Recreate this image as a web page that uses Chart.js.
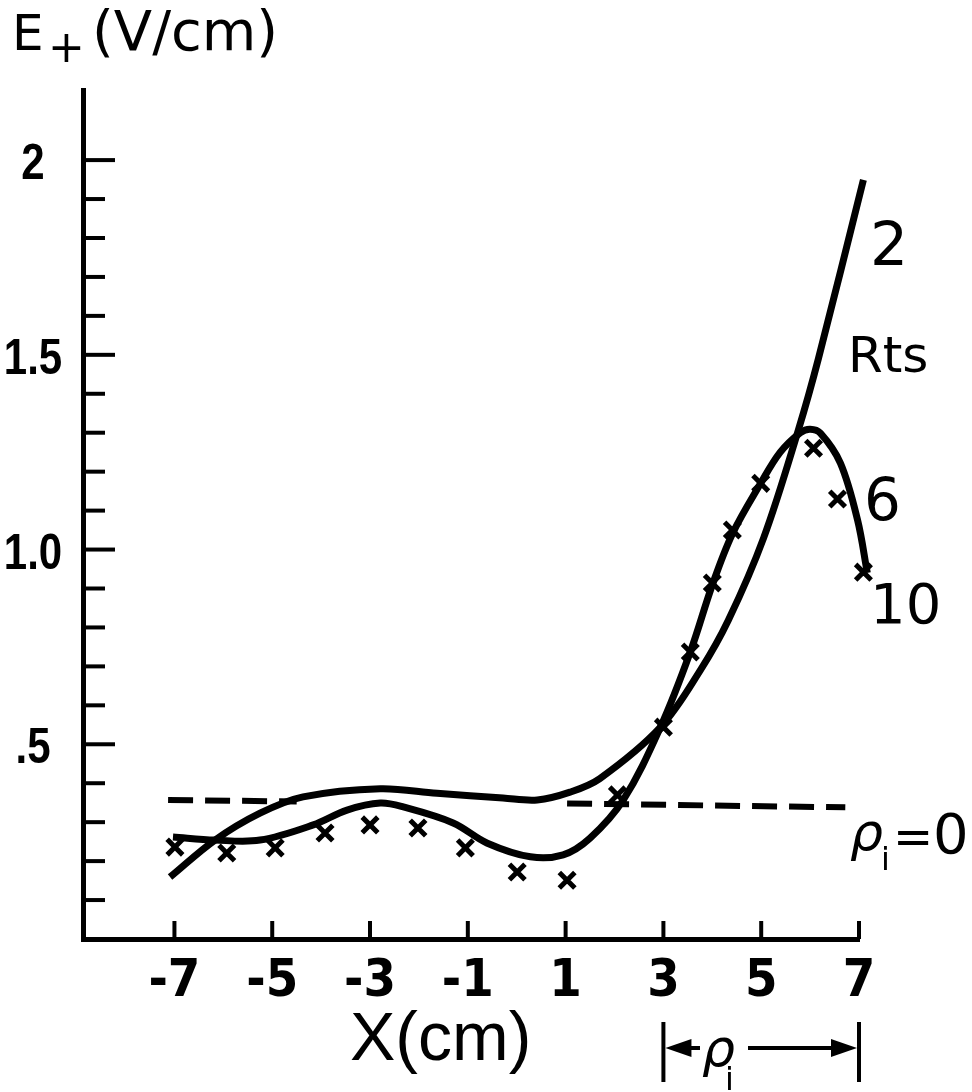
<!DOCTYPE html>
<html lang="en">
<head>
  <meta charset="UTF-8" />
  <title>E+ versus X</title>
  <script src="https://cdn.jsdelivr.net/npm/chart.js"></script>
  <style>
    html, body { margin: 0; padding: 0; background: #fff; }
    canvas { display: block; }
  </style>
</head>
<body>
  <canvas id="efield" width="972" height="1092"></canvas>

  <script>
    // axis ticks
    const xTicks = [-7, -5, -3, -1, 1, 3, 5, 7];
    const xTickLabels = ['-7', '-5', '-3', '-1', '1', '3', '5', '7'];
    const yTicks = [0.5, 1.0, 1.5, 2.0];
    const yTickLabels = ['.5', '1.0', '1.5', '2'];
    const yMinorTicks = [0.1, 0.2, 0.3, 0.4, 0.5, 0.6, 0.7, 0.8, 0.9, 1.0,
                         1.1, 1.2, 1.3, 1.4, 1.5, 1.6, 1.7, 1.8, 1.9, 2.0];

    // rho_i = 0 reference (dashed), hidden under the Rts=2 curve in the middle
    const rho0X = [-7.13, -4.5, -1.5, 1.03, 6.72];
    const rho0E = [0.357, 0.353, null, 0.348, 0.338];

    // Rts = 2
    const rts2X = [-7.09, -6.17, -5.25, -4.37, -2.79, -1.63, -0.28, 0.42, 1.09, 1.70,
                   2.94, 3.76, 4.33, 5.05, 5.76, 6.17, 7.09];
    const rts2E = [0.159, 0.254, 0.323, 0.365, 0.386, 0.374, 0.362, 0.357, 0.377, 0.412,
                   0.544, 0.691, 0.819, 1.030, 1.307, 1.490, 1.949];

    // Rts = 6
    const rts6X = [-7.03, -6.17, -5.25, -4.16, -3.47, -2.79, -2.32, -1.30, -0.60, 0.28, 0.95, 1.50,
                   2.18, 2.94, 3.55, 4.00, 4.41, 4.99, 5.39, 5.80, 6.00, 6.21, 6.62, 6.97, 7.17];
    const rts6E = [0.262, 0.254, 0.254, 0.293, 0.331, 0.349, 0.339, 0.298, 0.246, 0.211, 0.216, 0.259,
                   0.357, 0.544, 0.737, 0.909, 1.040, 1.170, 1.250, 1.300, 1.309, 1.299, 1.222, 1.076, 0.940];

    // Rts = 10 (x marks)
    const rts10X = [-6.99, -5.93, -4.94, -3.92, -3.00, -2.02, -1.05, 0.01, 1.03, 2.06,
                    3.00, 3.55, 4.00, 4.41, 4.99, 6.07, 6.56, 7.09];
    const rts10E = [0.236, 0.221, 0.234, 0.272, 0.293, 0.285, 0.234, 0.172, 0.151, 0.370,
                    0.544, 0.737, 0.914, 1.050, 1.170, 1.260, 1.130, 0.942];

    const rhoSpan = [3, 7];

    const pts = (xs, ys) => xs.map((x, i) => ({ x: x, y: ys[i] }));

    const DEJAVU = "'DejaVu Sans', 'Liberation Sans', sans-serif";
    const CONDENSED = "'DejaVu Sans Condensed', 'Liberation Sans', sans-serif";

    function text(ctx, s, x, y, font, align) {
      ctx.font = font;
      ctx.textAlign = align || 'left';
      ctx.textBaseline = 'alphabetic';
      ctx.fillText(s, x, y);
    }

    function line(ctx, x1, y1, x2, y2, w) {
      ctx.lineWidth = w;
      ctx.beginPath();
      ctx.moveTo(x1, y1);
      ctx.lineTo(x2, y2);
      ctx.stroke();
    }

    function arrowHead(ctx, tipX, y, dir) {
      ctx.beginPath();
      ctx.moveTo(tipX, y);
      ctx.lineTo(tipX + dir * 26, y - 9);
      ctx.lineTo(tipX + dir * 26, y + 9);
      ctx.closePath();
      ctx.fill();
    }

    // inward tick marks, y labels, titles and curve labels
    const decor = {
      id: 'decor',
      beforeDraw(chart) {
        const ctx = chart.ctx;
        ctx.save();
        ctx.fillStyle = '#fff';
        ctx.fillRect(0, 0, chart.width, chart.height);
        ctx.restore();
      },
      afterDraw(chart) {
        const ctx = chart.ctx;
        const xs = chart.scales.x, ys = chart.scales.y;
        const area = chart.chartArea;
        ctx.save();
        ctx.strokeStyle = '#000';
        ctx.fillStyle = '#000';
        ctx.lineCap = 'butt';

        yMinorTicks.forEach(v => {
          const y = ys.getPixelForValue(v);
          const len = yTicks.some(t => Math.abs(t - v) < 1e-6) ? 32 : 22;
          line(ctx, area.left, y, area.left + len, y, 4);
        });
        xTicks.forEach(v => {
          const x = xs.getPixelForValue(v);
          line(ctx, x, area.bottom, x, area.bottom - 18, 4);
        });

        // y tick labels, centred left of the axis
        yTicks.forEach((v, i) => {
          const y = ys.getPixelForValue(v);
          ctx.save();
          ctx.translate(33, y + 19);
          ctx.scale(0.84, 1);
          text(ctx, yTickLabels[i], 0, 0, 'bold 50px ' + "'Liberation Sans', sans-serif", 'center');
          ctx.restore();
        });

        // axis titles
        text(ctx, 'E', 12, 50, '50px ' + DEJAVU);
        text(ctx, '+', 48, 62, '44px ' + DEJAVU);
        text(ctx, '(V/cm)', 92, 50, '56px ' + DEJAVU);
        text(ctx, 'X(cm)', 350, 1060, '68px ' + "'Liberation Sans', sans-serif");

        // curve labels
        text(ctx, '2', 870, 265, '60px ' + DEJAVU);
        text(ctx, 'Rts', 848, 372, '50px ' + DEJAVU);
        text(ctx, '6', 864, 520, '58px ' + DEJAVU);
        text(ctx, '10', 870, 623, '56px ' + DEJAVU);
        text(ctx, 'ρ', 850, 850, 'italic 52px ' + DEJAVU);
        text(ctx, 'i', 881, 870, '32px ' + DEJAVU);
        text(ctx, '=', 893, 853, '48px ' + DEJAVU);
        text(ctx, '0', 933, 853, '56px ' + DEJAVU);

        // rho_i span marker below the axis
        const x3 = xs.getPixelForValue(rhoSpan[0]);
        const x7 = xs.getPixelForValue(rhoSpan[1]);
        const ya = 1048;
        line(ctx, x3, 1022, x3, 1082, 4);
        line(ctx, x7, 1022, x7, 1082, 4);
        line(ctx, x3 + 10, ya, 700, ya, 4);
        arrowHead(ctx, x3 + 2, ya, 1);
        line(ctx, 748, ya, x7 - 10, ya, 4);
        arrowHead(ctx, x7 - 2, ya, -1);
        text(ctx, 'ρ', 702, 1066, 'italic 52px ' + DEJAVU);
        text(ctx, 'i', 725, 1090, '32px ' + DEJAVU);

        ctx.restore();
      }
    };

    const curve = (label, data, extra) => Object.assign({
      label: label,
      data: data,
      borderColor: '#000',
      backgroundColor: '#000',
      borderWidth: 7,
      pointRadius: 0,
      fill: false,
      clip: false,
      tension: 0.35
    }, extra || {});

    new Chart(document.getElementById('efield'), {
      type: 'line',
      data: {
        datasets: [
          curve('ρi=0', pts(rho0X, rho0E), { borderWidth: 6, borderDash: [25, 12], tension: 0, spanGaps: false }),
          curve('2', pts(rts2X, rts2E)),
          curve('6', pts(rts6X, rts6E)),
          curve('10', pts(rts10X, rts10E), {
            showLine: false,
            pointStyle: 'crossRot',
            pointRadius: 11,
            pointBorderWidth: 5,
            pointBorderColor: '#000'
          })
        ]
      },
      options: {
        responsive: false,
        animation: false,
        layout: { padding: { top: 90, right: 113, left: 0, bottom: 0 } },
        plugins: {
          legend: { display: false },
          tooltip: { enabled: false }
        },
        scales: {
          x: {
            type: 'linear',
            min: -8.87,
            max: 7,
            grid: { display: false },
            border: { display: true, color: '#000', width: 5 },
            afterFit: s => { s.height = 153; },
            afterBuildTicks: s => { s.ticks = xTicks.map(v => ({ value: v })); },
            ticks: {
              color: '#000',
              autoSkip: false,
              maxRotation: 0,
              padding: 4,
              font: { family: CONDENSED, size: 52, weight: 'bold' },
              callback: (v, i) => xTickLabels[i]
            }
          },
          y: {
            type: 'linear',
            min: 0,
            max: 2.18,
            grid: { display: false },
            border: { display: true, color: '#000', width: 5 },
            afterFit: s => { s.width = 83; },
            afterBuildTicks: s => { s.ticks = yTicks.map(v => ({ value: v })); },
            ticks: { display: false }
          }
        }
      },
      plugins: [decor]
    });
  </script>
</body>
</html>
